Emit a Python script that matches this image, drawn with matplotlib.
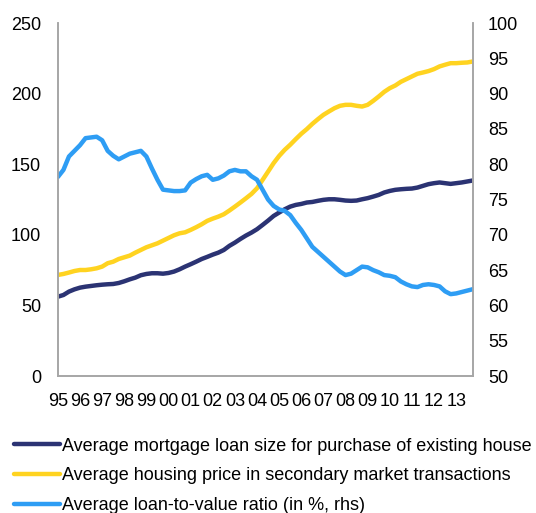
import numpy as np
import matplotlib
matplotlib.use("Agg")
import matplotlib.pyplot as plt

plt.rcParams['font.family'] = ['Liberation Sans', 'DejaVu Sans']

# quarterly observations, 1995Q1 .. 2013Q4
year_labels = ["95", "96", "97", "98", "99", "00", "01", "02", "03", "04",
               "05", "06", "07", "08", "09", "10", "11", "12", "13"]

loan_size = [56.2, 57.4, 59.8, 61.4, 62.6, 63.3, 63.8, 64.3, 64.7, 65.0,
             65.2, 65.9, 67.1, 68.5, 69.7, 71.4, 72.3, 72.8, 72.8, 72.5,
             73.0, 74.0, 75.6, 77.5, 79.2, 81.0, 82.9, 84.4, 86.0, 87.4,
             89.3, 92.2, 94.5, 97.1, 99.5, 101.6, 104.0, 107.0, 110.1, 113.4,
             115.8, 118.1, 120.0, 121.2, 121.9, 122.9, 123.3, 124.1, 124.8, 125.2,
             125.2, 124.8, 124.3, 124.1, 124.3, 125.2, 126.0, 127.1, 128.3, 130.0,
             131.1, 131.9, 132.3, 132.6, 132.8, 133.5, 134.7, 135.9, 136.6, 137.1,
             136.6, 136.1, 136.6, 137.1, 137.8, 138.5]

house_price = [71.6, 72.3, 73.3, 74.4, 75.1, 75.1, 75.6, 76.3, 77.5, 79.9,
               81.0, 82.9, 84.1, 85.3, 87.4, 89.3, 91.2, 92.6, 94.0, 95.9,
               97.8, 99.7, 101.1, 101.8, 103.5, 105.4, 107.5, 109.9, 111.5, 112.9,
               114.6, 117.2, 120.0, 122.9, 125.9, 129.0, 133.0, 138.9, 144.8, 150.8,
               155.9, 160.2, 163.8, 167.8, 171.6, 174.9, 178.6, 181.9, 185.0, 187.4,
               189.7, 191.4, 192.1, 192.1, 191.4, 190.9, 192.1, 194.9, 198.0, 201.3,
               203.9, 205.8, 208.4, 210.3, 212.2, 214.1, 215.0, 216.0, 217.4, 219.3,
               220.5, 221.6, 221.6, 221.9, 222.1, 222.8]

ltv_ratio = [78.2, 79.2, 81.1, 81.9, 82.7, 83.7, 83.8, 83.9, 83.4, 81.9,
             81.2, 80.7, 81.1, 81.5, 81.7, 81.9, 81.1, 79.4, 77.8, 76.4,
             76.3, 76.2, 76.2, 76.3, 77.4, 77.9, 78.3, 78.5, 77.8, 78.0,
             78.4, 79.0, 79.2, 79.0, 79.0, 78.3, 77.8, 76.4, 75.0, 74.1,
             73.6, 73.4, 72.8, 71.7, 70.7, 69.5, 68.3, 67.6, 66.9, 66.2,
             65.5, 64.8, 64.3, 64.5, 65.0, 65.5, 65.4, 65.0, 64.7, 64.3,
             64.2, 64.0, 63.4, 63.0, 62.7, 62.6, 62.9, 63.0, 62.9, 62.7,
             62.0, 61.6, 61.7, 61.9, 62.1, 62.3]

series_names = ["Average mortgage loan size for purchase of existing house",
                "Average housing price in secondary market transactions",
                "Average loan-to-value ratio (in %, rhs)"]

navy = "#2B3373"
yellow = "#FFD320"
blue = "#2E9DF4"
grey = "#A6A6A6"

x = np.arange(len(loan_size)) / 4.0

fig = plt.figure(figsize=(5.36, 5.13), dpi=100)
ax = fig.add_axes([0.108, 0.267, 0.774, 0.688])
ax2 = ax.twinx()

l1, = ax.plot(x, loan_size, color=navy, lw=3.2, solid_capstyle='round')
l2, = ax.plot(x, house_price, color=yellow, lw=3.2, solid_capstyle='round')
l3, = ax2.plot(x, ltv_ratio, color=blue, lw=3.2, solid_capstyle='round')

ax.set_xlim(0, x[-1])
ax.set_ylim(0, 250)
ax.set_yticks(range(0, 251, 50))
ax2.set_ylim(50, 100)
ax2.set_yticks(range(50, 101, 5))

ax.set_xticks(np.arange(len(year_labels)))
ax.set_xticklabels(year_labels)

for a in (ax, ax2):
    a.spines['top'].set_visible(False)
    for s in ('left', 'right', 'bottom'):
        a.spines[s].set_color(grey)
        a.spines[s].set_linewidth(1.2)
    a.tick_params(length=0, labelsize=13)
ax.tick_params(axis='y', pad=12)
ax.tick_params(axis='x', pad=12)
ax2.tick_params(axis='y', pad=11)

fig.legend([l1, l2, l3], series_names, loc='upper left',
           bbox_to_anchor=(0.027, 0.147), frameon=False, fontsize=13,
           handlelength=2.5, handletextpad=0.15, labelspacing=0.7,
           borderaxespad=0, borderpad=0)

fig.savefig("out.png", dpi=100)
